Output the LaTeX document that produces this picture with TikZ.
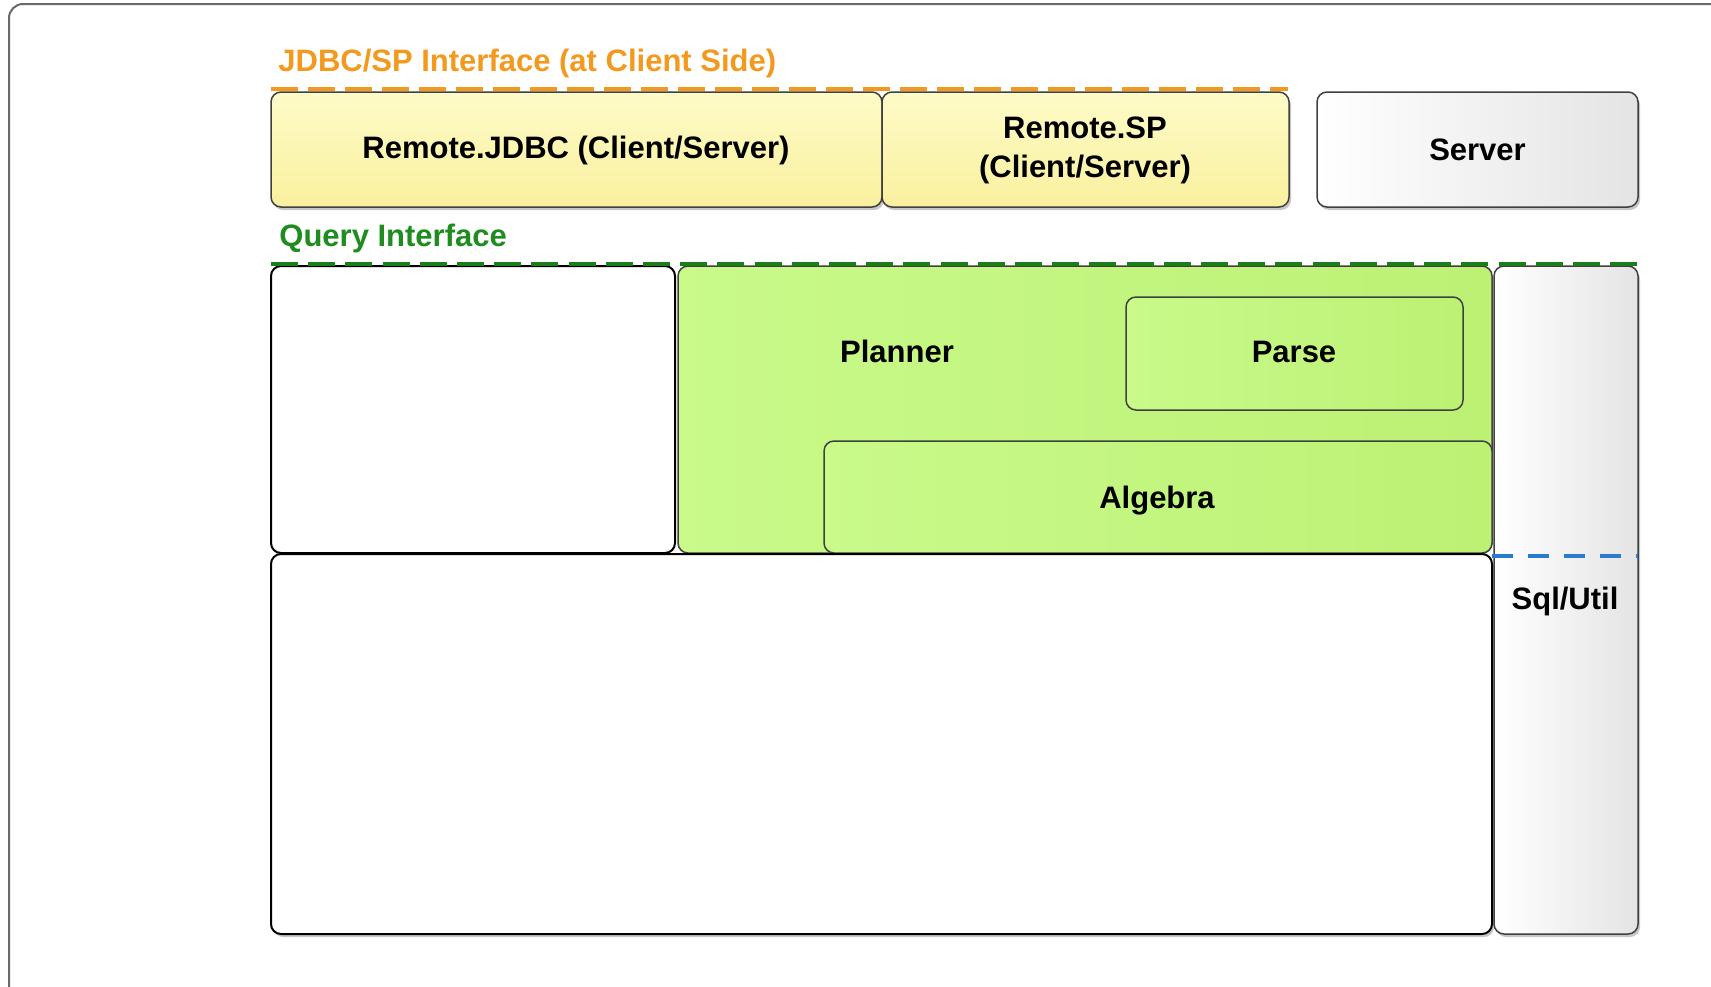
\documentclass[tikz,border=0pt]{standalone}
\usepackage{fontspec}
\setmainfont{Liberation Sans}
\usetikzlibrary{fit,shadows}
\definecolor{orangec}{HTML}{F39A1E}
\definecolor{greenc}{HTML}{1E8C1E}
\definecolor{bluec}{HTML}{2A7CCB}
\definecolor{yeltop}{HTML}{FEFBC8}
\definecolor{yelbot}{HTML}{F9F09E}
\definecolor{grntop}{HTML}{C9FA8A}
\definecolor{grnbot}{HTML}{BCF174}
\definecolor{graybot}{HTML}{E4E4E4}
\definecolor{framec}{HTML}{6A6A6A}
\begin{document}
\begin{tikzpicture}[x=0.5pt,y=-0.5pt,
 lbl/.style={font=\fontsize{15.5}{19.5}\selectfont\bfseries, inner sep=0pt, align=center},
 box/.style={draw=black!75, line width=0.75pt, rounded corners=5pt, inner sep=0pt},
 shad/.style={drop shadow={shadow xshift=1pt, shadow yshift=-1.5pt, opacity=0.22, fill=black}},
 yel/.style={box, shad, top color=yeltop, bottom color=yelbot},
 gry/.style={box, shad, left color=white, right color=graybot},
 grn/.style={box, left color=grntop, right color=grnbot},
 wht/.style={box, draw=black, line width=1pt, fill=white},
 dashline/.style={line width=2pt, dash pattern=on 13.5pt off 5pt},
 titlelbl/.style={font=\fontsize{15.5}{19}\selectfont\bfseries, inner sep=0pt, anchor=west}
]
\useasboundingbox (0,0) rectangle (1711,986);
\fill[white] (0,0) rectangle (1711,986);
\begin{scope}
 \clip (0,0) rectangle (1711,986);
 \draw[framec, line width=1pt, rounded corners=7pt] (9,4) rectangle (1760,1040);
\end{scope}

% top row
\node[titlelbl, text=orangec] (jdbclbl) at (278,63) {JDBC/SP Interface (at Client Side)};
\node[yel, fit={(271,92)(882,207)}] (jdbc) {};
\node[lbl] (jdbctxt) at (576,150) {Remote.JDBC (Client/Server)};
\node[yel, fit={(882,92)(1289,207)}] (sp) {};
\node[lbl] (sptxt) at (1085,150) {Remote.SP\\(Client/Server)};
\node[gry, fit={(1317,92)(1638,207)}] (server) {};
\node[lbl] (servertxt) at (server.center) {Server};
\coordinate (oa) at (271,89);
\coordinate (ob) at (1288,89);
\draw[dashline, orangec] (oa) -- (ob);

% query layer
\node[titlelbl, text=greenc] (qlbl) at (279,238) {Query Interface};
\node[grn, fit={(678,266)(1492,553)}] (planner) {};
\node[lbl] (plannerlbl) at (897,351) {Planner};
\node[grn, fit={(1126,297)(1463,410)}] (parse) {};
\node[lbl] (parsetxt) at (1294,352) {Parse};
\node[grn, fit={(824,441)(1492,553)}] (algebra) {};
\node[lbl] (algebratxt) at (1157,501) {Algebra};
\node[wht, fit={(271,266)(675,553)}] (leftbox) {};
\node[wht, shad, fit={(271,554)(1492,934)}] (bigbox) {};
\node[gry, fit={(1494,266)(1638,934)}] (sqlutil) {};
\node[lbl] (sqllbl) at (1565,601) {Sql/Util};
\coordinate (ga) at (271,264);
\coordinate (gb) at (1640,264);
\draw[dashline, greenc!90!black, dash pattern=on 13.5pt off 5.1pt] (ga) -- (gb);
\coordinate (ba) at (1492,556);
\coordinate (bb) at (1638,556);
\draw[dashline, bluec, dash pattern=on 10.5pt off 7.5pt] (ba) -- (bb);
\end{tikzpicture}
\end{document}
